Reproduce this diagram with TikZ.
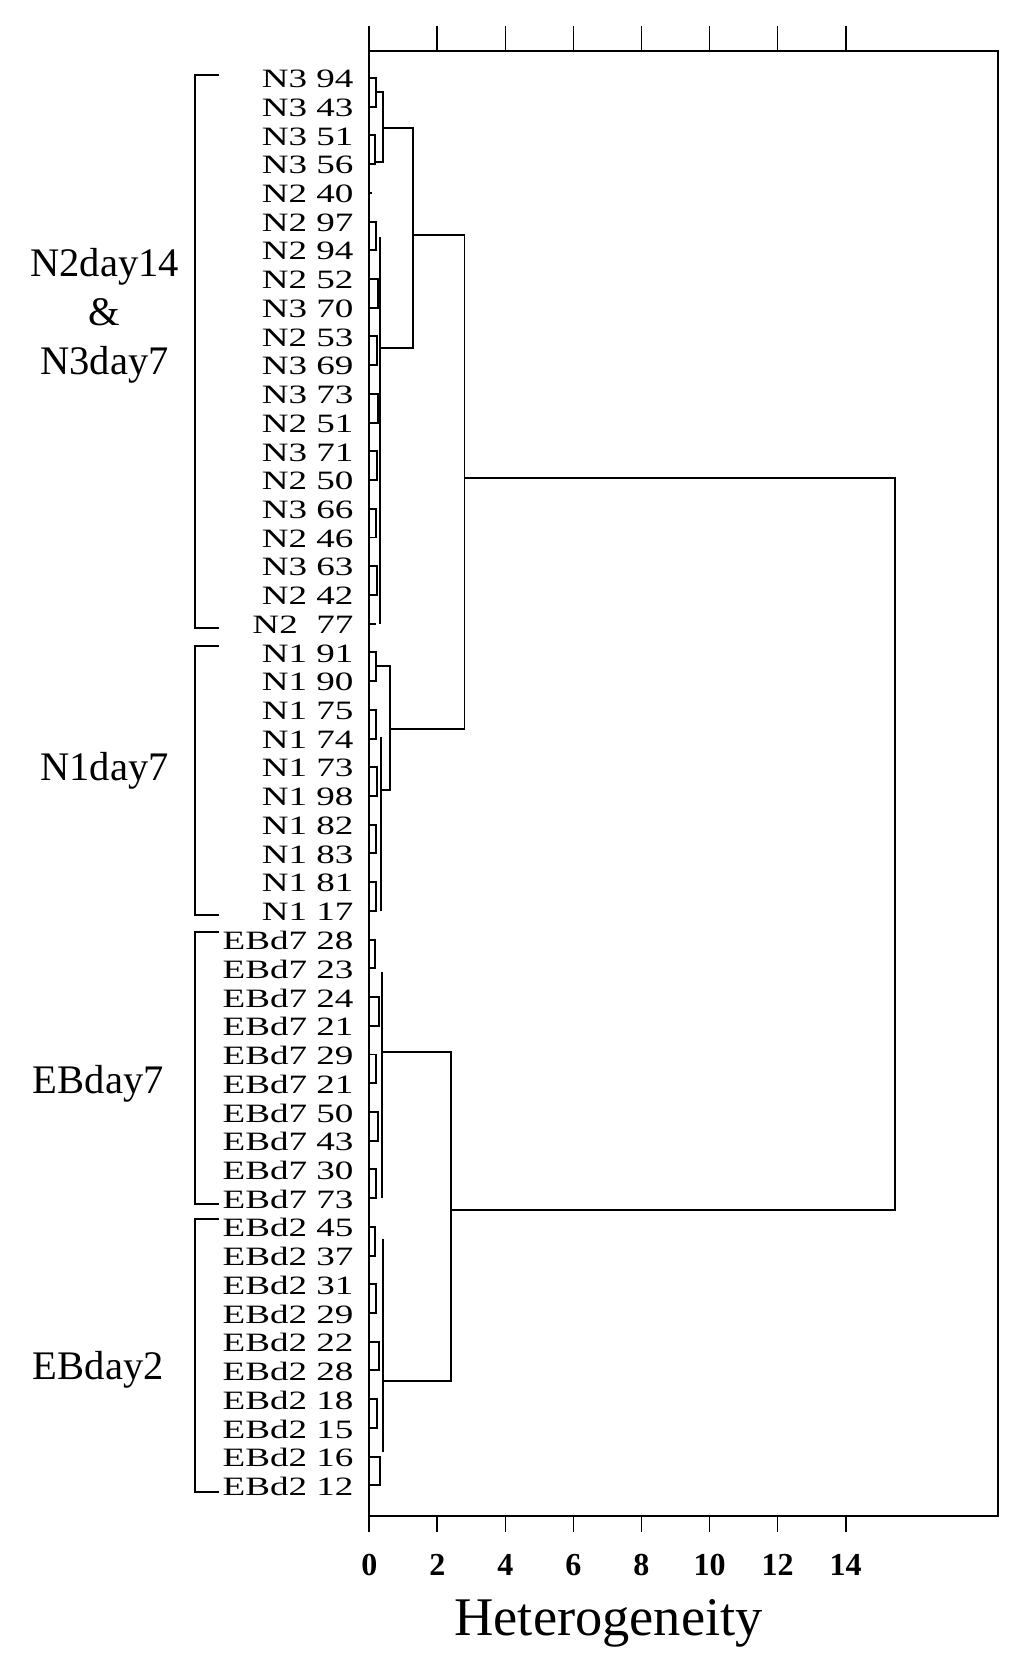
\documentclass[tikz,border=0pt]{standalone}
\usepackage{fontspec}
\setmainfont{Liberation Serif}
\begin{document}
\begin{tikzpicture}[x=1pt,y=-1pt,line width=1.8pt,
  leaf/.style={anchor=east,font=\fontsize{31}{31}\selectfont,inner sep=0pt,xscale=1.12,yscale=0.8},
  group/.style={align=center,font=\fontsize{38}{46}\selectfont},
  ticklab/.style={font=\fontsize{30}{30}\selectfont\bfseries},
  brk/.style={line width=2pt}]
\useasboundingbox (0,0) rectangle (960,1565);
% frame and axis ticks
\draw (346,48) rectangle (935,1420);
\foreach \k in {0,...,7}{
  \draw (346+63.7*\k,48) -- ++(0,-24);
  \draw (346+63.7*\k,1420) -- ++(0,15);
  \pgfmathtruncatemacro{\v}{2*\k}
  \node[ticklab] (t\k) at (346+63.7*\k,1466) {\v};
}
\node[font=\fontsize{51}{51}\selectfont] (xlab) at (570,1520) {Heterogeneity};
% leaf labels
\foreach \lab [count=\i from 0] in {N3 94,N3 43,N3 51,N3 56,N2 40,N2 97,N2 94,N2 52,N3 70,N2 53,
  N3 69,N3 73,N2 51,N3 71,N2 50,N3 66,N2 46,N3 63,N2 42,N2 \ 77,
  N1 91,N1 90,N1 75,N1 74,N1 73,N1 98,N1 82,N1 83,N1 81,N1 17,
  EBd7 28,EBd7 23,EBd7 24,EBd7 21,EBd7 29,EBd7 21,EBd7 50,EBd7 43,EBd7 30,EBd7 73,
  EBd2 45,EBd2 37,EBd2 31,EBd2 29,EBd2 22,EBd2 28,EBd2 18,EBd2 15,EBd2 16,EBd2 12}
  \node[leaf] (l\i) at (332,74+26.9*\i) {\lab};
% group brackets and names
\draw[brk] (205,70) -- (183,70) -- (183,588) -- (205,588);
\draw[brk] (205,605) -- (183,605) -- (183,857) -- (205,857);
\draw[brk] (205,873) -- (183,873) -- (183,1128) -- (205,1128);
\draw[brk] (205,1142) -- (183,1142) -- (183,1397) -- (205,1397);
\node[group] (g1) at (98,296) {N2day14\\\&\\N3day7};
\node[group] (g2) at (98,722) {N1day7};
\node[group] (g3) at (92,1015) {EBday7};
\node[group] (g4) at (92,1283) {EBday2};
% fine merges (pairs of leaves)
\foreach \i/\h in {0/352,2/351,5/352,7/354,9/353,11/354,13/353,15/352,17/353,
  20/352,22/352,24/353,26/352,28/352,30/351,32/355,34/352,36/354,38/352,
  40/351,42/352,44/355,46/353,48/356}{
  \pgfmathsetmacro{\ya}{73+26.9*\i}
  \pgfmathsetmacro{\yb}{73+26.9*(\i+1)}
  \draw (346,\ya) -- (\h,\ya) -- (\h,\yb) -- (346,\yb);
}
\draw (346,181) -- (348,181);
\draw (346,584) -- (352,584);
\draw (346,1122) -- (352,1122);
% intermediate clusters
\draw (352,86) -- (359,86) -- (359,152) -- (351,152);
\draw (359,120) -- (387,120) -- (387,326) -- (356,326);
\draw (356,222) -- (356,584);
\draw (387,220) -- (435,220) -- (435,683) -- (365,683);
\draw (352,624) -- (365,624) -- (365,740) -- (357,740);
\draw (357,690) -- (357,853);
\draw (358,910) -- (358,1122);
\draw (358,985) -- (422,985) -- (422,1293) -- (359,1293);
\draw (359,1160) -- (359,1360);
\draw (435,448) -- (838,448) -- (838,1133) -- (422,1133);
\end{tikzpicture}
\end{document}
